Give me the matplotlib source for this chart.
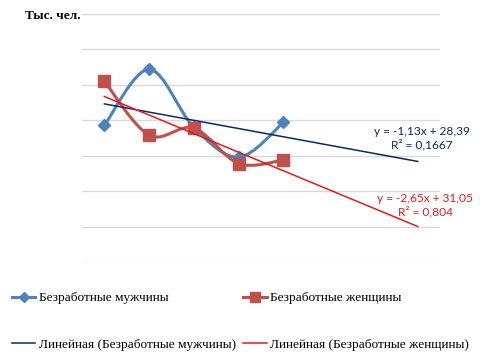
import matplotlib.pyplot as plt
import numpy as np
from matplotlib.path import Path
from matplotlib.patches import PathPatch
from matplotlib.lines import Line2D

# Данные (тыс. чел.)
periodos = np.array([1, 2, 3, 4, 5])
hombres = [24.3, 32.2, 24.0, 19.8, 24.7]
mujeres = [30.5, 22.9, 23.9, 18.9, 19.4]
etiquetas = ["Безработные мужчины", "Безработные женщины"]
colores = ["#4F81BD", "#C0504D"]
colores_tend = ["#0B2A66", "#E31A1A"]
textos_tend = ["y = -1,13x + 28,39\nR² = 0,1667", "y = -2,65x + 31,05\nR² = 0,804"]
pronostico = 3  # periodos hacia adelante


def curva_suave(x, y):
    """Camino Bezier al estilo de Excel (linea suavizada)."""
    pts = np.column_stack([x, y]).astype(float)
    n = len(pts)
    verts = [pts[0]]
    codes = [Path.MOVETO]
    for i in range(n - 1):
        p0 = pts[max(i - 1, 0)]
        p1 = pts[i]
        p2 = pts[i + 1]
        p3 = pts[min(i + 2, n - 1)]
        c1 = p1 + (p2 - p0) / 6
        c2 = p2 - (p3 - p1) / 6
        verts += [c1, c2, p2]
        codes += [Path.CURVE4] * 3
    return Path(verts, codes)


fig = plt.figure(figsize=(4.81, 3.6), dpi=100)
ax = fig.add_axes([0.1705, 0.272, 0.7445, 0.689])

ax.set_xlim(0.5, 8.5)
ax.set_ylim(5, 40)
ax.set_yticks(np.arange(5, 41, 5))
ax.yaxis.grid(True, color="#D9D9D9", linewidth=1)
ax.set_axisbelow(True)
ax.tick_params(left=False, bottom=False, labelleft=False, labelbottom=False)
for s in ax.spines.values():
    s.set_visible(False)

series = [hombres, mujeres]
marcadores = ["D", "s"]
tam = [6.5, 8]
handles = []
for datos, col, colt, mk, ms in zip(series, colores, colores_tend, marcadores, tam):
    ax.add_patch(PathPatch(curva_suave(periodos, datos), facecolor="none",
                           edgecolor=col, linewidth=2.2, zorder=3))
    ax.plot(periodos, datos, linestyle="none", marker=mk, markersize=ms,
            color=col, zorder=4)
    # tendencia lineal
    a, b = np.polyfit(periodos, datos, 1)
    xt = np.array([periodos[0], periodos[-1] + pronostico])
    ax.plot(xt, a * xt + b, color=colt, linewidth=1.1, zorder=5)
    handles.append((Line2D([], [], color=col, linewidth=2.2, marker=mk,
                           markersize=ms - 1.5),
                    Line2D([], [], color=colt, linewidth=1.1)))

fuente_tend = "Lato"
ax.text(8.1, 22.45, textos_tend[0], color=colores_tend[0], ha="center", va="center",
        fontsize=8.6, family=fuente_tend, linespacing=1.2, multialignment="center",
        zorder=6, clip_on=False)
ax.text(8.17, 13.05, textos_tend[1], color=colores_tend[1], ha="center", va="center",
        fontsize=8.6, family=fuente_tend, linespacing=1.2, multialignment="center",
        zorder=6, clip_on=False)

fig.text(0.052, 0.955, "Тыс. чел.", fontsize=9.5, family="Liberation Serif",
         fontweight="bold", va="center")

h = [handles[0][0], handles[0][1], handles[1][0], handles[1][1]]
l = [etiquetas[0], "Линейная (" + etiquetas[0] + ")",
     etiquetas[1], "Линейная (" + etiquetas[1] + ")"]
fig.legend(h, l, ncol=2, loc="upper left", bbox_to_anchor=(0.014, 0.204),
           frameon=False, prop={"family": "Liberation Serif", "size": 9.6},
           handlelength=1.75, handletextpad=0.25, columnspacing=0.55,
           labelspacing=2.58, borderaxespad=0)

fig.savefig("out.png", dpi=100)
